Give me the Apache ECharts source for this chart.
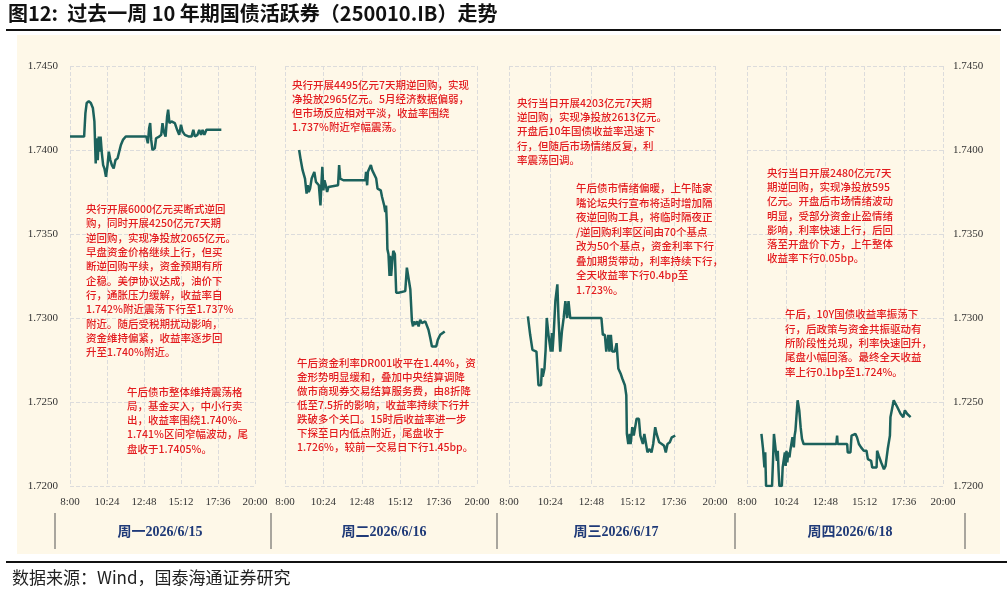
<!DOCTYPE html>
<html>
<head>
<meta charset="utf-8">
<script src="https://cdn.jsdelivr.net/npm/echarts@6/dist/echarts.min.js"></script>
<style>
  html, body { margin: 0; padding: 0; background: #fff; }
  #chart { width: 1007px; height: 593px; }
</style>
</head>
<body>
<div id="chart"></div>
<script>
/* 10Y CGB active bond (250010.IB), intraday yield, 4 trading days.
   Times are minutes after 8:00. */
var days = ['周一2026/6/15', '周二2026/6/16', '周三2026/6/17', '周四2026/6/18'];
var xTicks = ['8:00', '10:24', '12:48', '15:12', '17:36', '20:00'];

var monT = [0, 55, 60, 65, 73, 81, 89, 95, 100, 104, 108, 112, 115, 119, 124, 129, 134, 140, 146, 151,
  157, 163, 170, 177, 185, 192, 198, 206, 217, 235, 297, 303, 308, 312, 316, 321, 330, 335, 347, 355,
  360, 365, 372, 378, 382, 387, 395, 408, 417, 425, 432, 438, 447, 463, 473, 480, 486, 496, 503, 510,
  516, 523, 531, 589];
var monV = [1.7408, 1.7408, 1.7422, 1.7428, 1.7429, 1.7428, 1.7425, 1.7417, 1.7392, 1.7407, 1.7394, 1.7408, 1.7399, 1.7408, 1.7398, 1.7391, 1.7389, 1.7384, 1.7391, 1.7399,
  1.7394, 1.7391, 1.7389, 1.7394, 1.7395, 1.7396, 1.7403, 1.7406, 1.7408, 1.7408, 1.7408, 1.7404, 1.7413, 1.7416, 1.7406, 1.7400, 1.7401, 1.7407, 1.7408, 1.7409,
  1.7416, 1.7411, 1.7408, 1.7420, 1.7424, 1.7416, 1.7417, 1.7416, 1.7412, 1.7409, 1.7415, 1.7411, 1.7409, 1.7408, 1.7408, 1.7412, 1.7408, 1.7409, 1.7412, 1.7409,
  1.7412, 1.7409, 1.7412, 1.7412];

var tueT = [53, 59, 66, 75, 79, 81, 85, 89, 94, 100, 110, 116, 120, 127, 133, 137, 140, 144, 148, 153,
  158, 163, 169, 199, 203, 207, 219, 301, 304, 308, 311, 317, 322, 327, 334, 342, 347, 353, 359, 364,
  372, 376, 379, 382, 384, 388, 392, 394, 398, 402, 406, 412, 417, 426, 451, 457, 463, 470, 476, 480,
  483, 488, 495, 501, 507, 513, 520, 526, 532, 538, 545, 551, 567, 573, 582, 599];
var tueV = [1.7400, 1.7394, 1.7388, 1.7383, 1.7383, 1.7374, 1.7379, 1.7375, 1.7377, 1.7383, 1.7387, 1.7381, 1.7382, 1.7379, 1.7367, 1.7381, 1.7390, 1.7376, 1.7382, 1.7379,
  1.7375, 1.7378, 1.7378, 1.7379, 1.7391, 1.7383, 1.7382, 1.7382, 1.7387, 1.7379, 1.7387, 1.7386, 1.7391, 1.7388, 1.7387, 1.7383, 1.7377, 1.7378, 1.7376, 1.7372,
  1.7367, 1.7363, 1.7367, 1.7356, 1.7341, 1.7338, 1.7325, 1.7337, 1.7325, 1.7333, 1.7340, 1.7338, 1.7315, 1.7315, 1.7316, 1.7330, 1.7329, 1.7317, 1.7298, 1.7295,
  1.7298, 1.7296, 1.7298, 1.7295, 1.7299, 1.7297, 1.7298, 1.7298, 1.7298, 1.7293, 1.7288, 1.7283, 1.7283, 1.7287, 1.7290, 1.7292];

var wedT = [66, 74, 82, 96, 103, 112, 115, 118, 124, 128, 132, 138, 142, 146, 150, 152, 156, 162, 169, 173,
  179, 185, 191, 197, 203, 208, 214, 323, 328, 335, 340, 347, 351, 356, 361, 370, 376, 382, 390, 396,
  405, 410, 412, 417, 422, 425, 431, 436, 440, 446, 454, 459, 464, 468, 473, 478, 484, 490, 498, 504,
  511, 516, 525, 534, 542, 548, 554, 562, 569, 581];
var wedV = [1.7301, 1.7290, 1.7281, 1.7280, 1.7260, 1.7260, 1.7270, 1.7265, 1.7270, 1.7281, 1.7300, 1.7290, 1.7291, 1.7280, 1.7291, 1.7280, 1.7290, 1.7310, 1.7320, 1.7300,
  1.7280, 1.7292, 1.7300, 1.7310, 1.7300, 1.7310, 1.7300, 1.7300, 1.7290, 1.7290, 1.7280, 1.7290, 1.7280, 1.7290, 1.7280, 1.7280, 1.7285, 1.7270, 1.7267, 1.7264,
  1.7260, 1.7254, 1.7231, 1.7225, 1.7231, 1.7225, 1.7235, 1.7230, 1.7231, 1.7240, 1.7240, 1.7230, 1.7229, 1.7225, 1.7231, 1.7226, 1.7220, 1.7222, 1.7220, 1.7225,
  1.7235, 1.7231, 1.7226, 1.7225, 1.7224, 1.7220, 1.7225, 1.7226, 1.7229, 1.7230];

var thuT = [53, 59, 64, 67, 70, 92, 96, 99, 103, 107, 110, 113, 116, 119, 128, 131, 135, 139, 142, 145,
  148, 152, 156, 159, 163, 167, 172, 175, 178, 181, 186, 192, 197, 202, 208, 328, 331, 333, 368, 370,
  380, 384, 398, 404, 411, 419, 429, 439, 444, 450, 456, 460, 476, 478, 484, 493, 503, 509, 517, 525,
  527, 534, 539, 552, 564, 574, 580, 588, 601];
var thuV = [1.7231, 1.7222, 1.7211, 1.7220, 1.7200, 1.7200, 1.7217, 1.7231, 1.7231, 1.7219, 1.7215, 1.7221, 1.7209, 1.7200, 1.7200, 1.7211, 1.7211, 1.7220, 1.7212, 1.7221,
  1.7214, 1.7220, 1.7217, 1.7221, 1.7221, 1.7229, 1.7223, 1.7230, 1.7233, 1.7240, 1.7251, 1.7245, 1.7235, 1.7228, 1.7225, 1.7225, 1.7230, 1.7225, 1.7225, 1.7220,
  1.7220, 1.7230, 1.7231, 1.7229, 1.7225, 1.7223, 1.7221, 1.7221, 1.7216, 1.7215, 1.7215, 1.7211, 1.7211, 1.7221, 1.7218, 1.7214, 1.7210, 1.7212, 1.7222, 1.7230,
  1.7241, 1.7241, 1.7251, 1.7247, 1.7243, 1.7241, 1.7245, 1.7243, 1.7241];

var notes = [
  '央行开展6000亿元买断式逆回\n购，同时开展4250亿元7天期\n逆回购，实现净投放2065亿元。\n早盘资金价格继续上行，但买\n断逆回购平续，资金预期有所\n企稳。美伊协议达成，油价下\n行，通胀压力缓解，收益率自\n1.742%附近震荡下行至1.737%\n附近。随后受税期扰动影响，\n资金维持偏紧，收益率逐步回\n升至1.740%附近。',
  '午后债市整体维持震荡格\n局，基金买入，中小行卖\n出，收益率围绕1.740%-\n1.741%区间窄幅波动，尾\n盘收于1.7405%。',
  '央行开展4495亿元7天期逆回购，实现\n净投放2965亿元。5月经济数据偏弱，\n但市场反应相对平淡，收益率围绕\n1.737%附近窄幅震荡。',
  '午后资金利率DR001收平在1.44%，资\n金形势明显缓和，叠加中央结算调降\n做市商现券交易结算服务费，由8折降\n低至7.5折的影响，收益率持续下行并\n跌破多个关口。15时后收益率进一步\n下探至日内低点附近，尾盘收于\n1.726%，较前一交易日下行1.45bp。',
  '央行当日开展4203亿元7天期\n逆回购，实现净投放2613亿元。\n开盘后10年国债收益率迅速下\n行，但随后市场情绪反复，利\n率震荡回调。',
  '午后债市情绪偏暖，上午陆家\n嘴论坛央行宣布将适时增加隔\n夜逆回购工具，将临时隔夜正\n/逆回购利率区间由70个基点\n改为50个基点，资金利率下行\n叠加期货带动，利率持续下行，\n全天收益率下行0.4bp至\n1.723%。',
  '央行当日开展2480亿元7天\n期逆回购，实现净投放595\n亿元。开盘后市场情绪波动\n明显，受部分资金止盈情绪\n影响，利率快速上行，后回\n落至开盘价下方，上午整体\n收益率下行0.05bp。',
  '午后，10Y国债收益率振荡下\n行，后政策与资金共振驱动有\n所阶段性兑现，利率快速回升，\n尾盘小幅回落。最终全天收益\n率上行0.1bp至1.724%。'
];

var LINE = '#1c625c', RED = '#e31c1f', GRIDC = '#dcdcdc';
var SERIF = '"Liberation Serif", "Times New Roman", serif';
var CJK = '"Noto Sans CJK SC", sans-serif';

function pairs(t, v) { return t.map(function (x, i) { return [x, v[i]]; }); }
var series = [pairs(monT, monV), pairs(tueT, tueV), pairs(wedT, wedV), pairs(thuT, thuV)];

var panels = [{ left: 70, width: 185 }, { left: 285, width: 192 }, { left: 509, width: 206 }, { left: 747, width: 196 }];
var notePos = [[86, 202, 14.3], [127, 384.5, 14.25], [292, 78, 14], [297, 356, 14.05],
  [517, 96, 14.2], [576, 181, 14.5], [767, 166, 14.2], [785, 307, 14.35]];
var dayX = [160, 384, 616, 850], sepX = [55, 271, 497, 735, 965];

var chart = echarts.init(document.getElementById('chart'));

var graphic = [
  { type: 'rect', z: -10, shape: { x: 17, y: 35, width: 983, height: 519 }, style: { fill: '#fef8e8' } },
  { type: 'text', left: 8, top: 3, style: { text: '图12:  过去一周 10 年期国债活跃券（250010.IB）走势', fill: '#111',
    font: 'bold 20px ' + CJK } },
  { type: 'line', shape: { x1: 6, y1: 30, x2: 1001, y2: 30 }, style: { stroke: '#111', lineWidth: 2 } },
  { type: 'line', shape: { x1: 6, y1: 562, x2: 1007, y2: 562 }, style: { stroke: '#111', lineWidth: 2 } },
  { type: 'text', left: 12, top: 569, style: { text: '数据来源：Wind，国泰海通证券研究', fill: '#222', font: '17px ' + CJK } }
];
notes.forEach(function (s, i) {
  var p = notePos[i];
  graphic.push({ type: 'text', z: 100, x: p[0], y: p[1], style: { text: s, fill: RED, fontSize: 10.5, fontFamily: CJK,
    fontWeight: 500, lineHeight: p[2], verticalAlign: 'top' } });
});
days.forEach(function (d, i) {
  graphic.push({ type: 'text', x: dayX[i], y: 532, style: { text: d, fill: '#1f3a78', fontSize: 14, fontWeight: 'bold',
    fontFamily: SERIF + ', ' + CJK, align: 'center', verticalAlign: 'middle' } });
});
sepX.forEach(function (x) {
  graphic.push({ type: 'line', shape: { x1: x, y1: 513, x2: x, y2: 549 }, style: { stroke: '#555', lineWidth: 1 } });
});

function fmtTime(v) {
  var m = 8 * 60 + Math.round(v), h = Math.floor(m / 60), mm = m % 60;
  return h + ':' + (mm < 10 ? '0' : '') + mm;
}

chart.setOption({
  animation: false,
  backgroundColor: '#fff',
  graphic: graphic,
  grid: panels.map(function (p) { return { left: p.left, width: p.width, top: 66, bottom: 107 }; }),
  xAxis: panels.map(function (p, i) {
    return { type: 'value', gridIndex: i, min: 0, max: 720, interval: 144,
      axisLine: { show: false }, axisTick: { show: false },
      axisLabel: { margin: 11, color: '#333', fontFamily: SERIF, fontSize: 11,
        formatter: function (v) { return xTicks[Math.round(v / 144)] || fmtTime(v); } },
      splitLine: { show: true, lineStyle: { color: GRIDC, type: 'dashed' } } };
  }),
  yAxis: panels.map(function (p, i) {
    return { type: 'value', gridIndex: i, min: 1.72, max: 1.745, interval: 0.005,
      position: i === 3 ? 'right' : 'left',
      axisLine: { show: false }, axisTick: { show: false },
      axisLabel: { show: i === 0 || i === 3, margin: i === 3 ? 10 : 12, color: '#333', fontFamily: SERIF, fontSize: 11,
        formatter: function (v) { return v.toFixed(4); } },
      splitLine: { show: true, lineStyle: { color: GRIDC, type: 'dashed' } } };
  }),
  series: series.map(function (d, i) {
    return { type: 'line', xAxisIndex: i, yAxisIndex: i, data: d, showSymbol: false, symbol: 'none',
      lineStyle: { color: LINE, width: 2.5 }, itemStyle: { color: LINE } };
  })
});
</script>
</body>
</html>
